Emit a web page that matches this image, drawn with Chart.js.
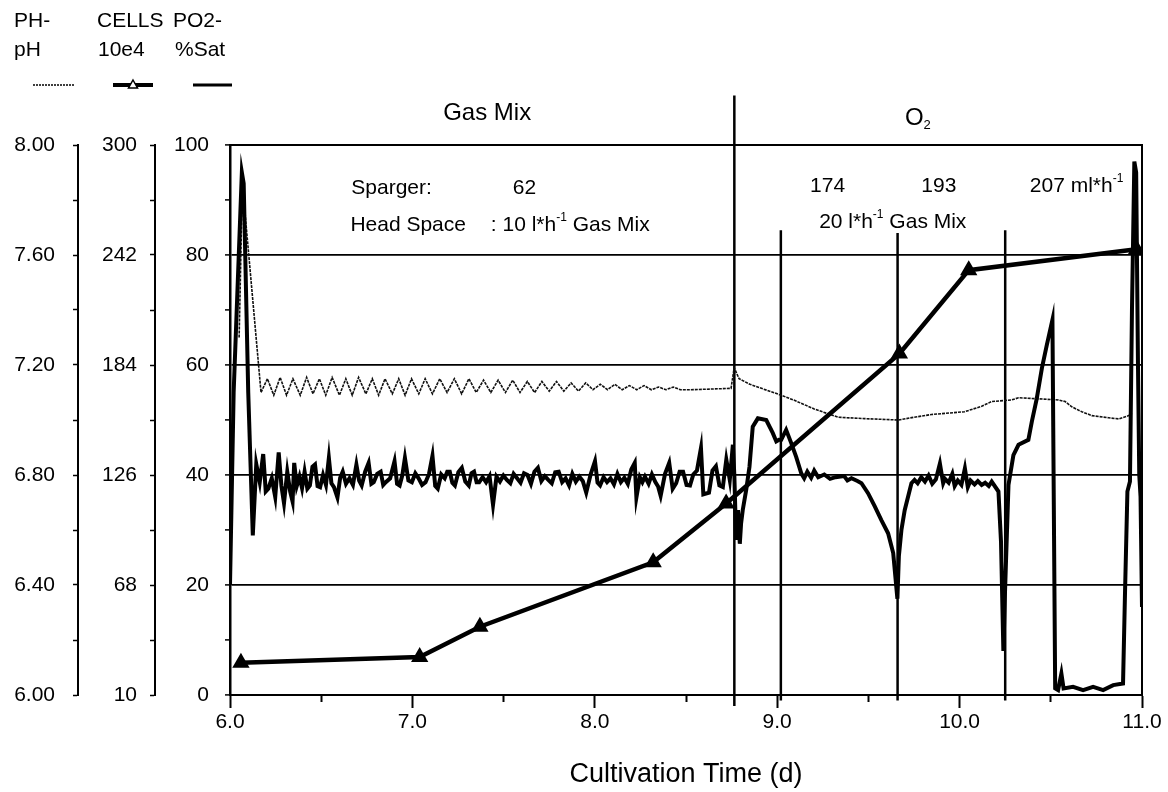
<!DOCTYPE html>
<html>
<head>
<meta charset="utf-8">
<script src="https://cdn.jsdelivr.net/npm/chart.js@4.4.1/dist/chart.umd.min.js"></script>
<style>
  html, body { margin: 0; padding: 0; background: #fff; }
</style>
</head>
<body>
<canvas id="cultureChart" width="1168" height="792"></canvas>
<script>
const FONT = '"Liberation Sans", Arial, Helvetica, sans-serif';
Chart.defaults.font.family = FONT;
Chart.defaults.color = '#000';

// axis tick labels
const dayTicks = [6, 7, 8, 9, 10, 11];
const phTicks = [6.0, 6.4, 6.8, 7.2, 7.6, 8.0];
const cellTicks = [10, 68, 126, 184, 242, 300];
const po2Ticks = [0, 20, 40, 60, 80, 100];

// cell counts (10e4)
const cellDays = [6.06, 7.04, 7.37, 8.32, 8.72, 9.67, 10.05, 10.97];
const cellValues = [27, 30, 46, 80, 111, 190, 234, 245];

// dissolved oxygen (% saturation)
const po2Days = [
  6.00, 6.02, 6.065, 6.075, 6.10, 6.125, 6.144, 6.163, 6.182, 6.196, 6.210, 6.229, 6.248, 6.267, 6.282, 6.296,
  6.314, 6.330, 6.343, 6.352, 6.366, 6.381, 6.395, 6.409, 6.424, 6.438, 6.452, 6.466, 6.480, 6.494, 6.510, 6.526,
  6.542, 6.556, 6.570, 6.589, 6.604, 6.618, 6.636, 6.655, 6.674, 6.693, 6.708, 6.722, 6.741, 6.760, 6.775, 6.788,
  6.807, 6.826, 6.840, 6.854, 6.878, 6.902, 6.916, 6.930, 6.945, 6.959, 6.978, 6.997, 7.016, 7.034, 7.053, 7.072,
  7.091, 7.110, 7.125, 7.139, 7.158, 7.177, 7.191, 7.205, 7.219, 7.233, 7.252, 7.271, 7.290, 7.309, 7.324, 7.338,
  7.352, 7.366, 7.385, 7.404, 7.423, 7.442, 7.461, 7.480, 7.499, 7.518, 7.537, 7.555, 7.574, 7.593, 7.612, 7.631,
  7.650, 7.669, 7.688, 7.707, 7.726, 7.745, 7.764, 7.783, 7.802, 7.821, 7.840, 7.859, 7.877, 7.896, 7.915, 7.934,
  7.953, 7.977, 8.001, 8.015, 8.029, 8.048, 8.067, 8.086, 8.105, 8.124, 8.143, 8.162, 8.181, 8.200, 8.219, 8.228,
  8.247, 8.261, 8.275, 8.295, 8.313, 8.332, 8.347, 8.361, 8.385, 8.408, 8.427, 8.446, 8.465, 8.484, 8.503, 8.522,
  8.540, 8.560, 8.582, 8.595, 8.626, 8.645, 8.664, 8.683, 8.702, 8.721, 8.740, 8.757, 8.765, 8.775, 8.785, 8.795,
  8.802, 8.811, 8.830, 8.848, 8.866, 8.894, 8.940, 8.976, 8.995, 9.010, 9.022, 9.049, 9.077, 9.104, 9.132, 9.148,
  9.165, 9.186, 9.203, 9.225, 9.258, 9.290, 9.320, 9.367, 9.385, 9.407, 9.440, 9.462, 9.498, 9.535, 9.571, 9.608,
  9.636, 9.659, 9.667, 9.681, 9.699, 9.736, 9.753, 9.770, 9.790, 9.810, 9.830, 9.850, 9.870, 9.892, 9.910, 9.920,
  9.940, 9.960, 9.973, 9.990, 10.010, 10.029, 10.045, 10.060, 10.082, 10.100, 10.121, 10.140, 10.160, 10.176, 10.213, 10.227,
  10.240, 10.249, 10.268, 10.295, 10.323, 10.377, 10.396, 10.423, 10.451, 10.478, 10.509, 10.524, 10.540, 10.558, 10.570, 10.622,
  10.677, 10.732, 10.787, 10.842, 10.896, 10.907, 10.920, 10.934, 10.945, 10.958, 10.968, 10.978, 10.985, 10.992, 11.000
];
const po2Values = [
  20, 55, 95, 93, 55, 29, 42, 38.7, 43.8, 37, 37.5, 39.4, 36, 44.1, 38, 34.9,
  40.6, 37, 35.2, 42.2, 38, 39.7, 37.6, 40.6, 37.5, 38.1, 41.5, 41.9, 38, 37.8, 40, 38.2,
  43.1, 38.5, 37.8, 35.9, 39.5, 40.6, 38.4, 39.4, 38.2, 41.9, 39, 38.1, 40.6, 42.2, 38.4, 38.7,
  40.2, 40.6, 38.2, 38.7, 39.4, 42.5, 38.4, 38.1, 40, 43.1, 39, 38.7, 40.3, 39.4, 38.2, 38.7,
  40.2, 43.5, 38, 37.5, 40.1, 39.4, 40.6, 40.6, 38.6, 38.1, 40.5, 41.3, 38.8, 38.1, 40.3, 40.6,
  38.7, 38.7, 39.6, 38.7, 39.8, 34.6, 39.7, 38.8, 39.9, 39.1, 38.5, 40.2, 39.4, 38.6, 40.3, 40,
  38.4, 40.6, 41.3, 38.9, 39.8, 39.1, 38.5, 40.5, 40.6, 38.7, 39.4, 38.1, 40.2, 38.8, 39.7, 38.9,
  36.8, 40.1, 42.5, 38.6, 38.1, 39.6, 38.7, 39.4, 38.3, 40.2, 38.7, 39.5, 38.4, 41, 42.2, 35.9,
  39.6, 38.7, 39.7, 38.4, 40.1, 38.7, 37.9, 36.2, 40.2, 42.2, 37.5, 38.5, 40.6, 40.6, 38.2, 38.1,
  40.1, 40.8, 44.9, 36.5, 36.8, 40.8, 41.6, 38.1, 37.8, 42.8, 39.1, 45.5, 40, 28.2, 33.6, 27.5,
  31.2, 33.6, 37.3, 41.5, 48.8, 50.3, 50, 47.6, 46.1, 46.4, 46.4, 48.2, 45.8, 43.3, 40.3, 39.4,
  40.6, 39.5, 40.8, 39.6, 40.1, 39.3, 39.6, 39.8, 39, 39.4, 38.9, 38.5, 36.7, 34.3, 31.8, 29.4,
  25.8, 17.5, 25.2, 30, 33.6, 38.5, 39.1, 38.5, 39.6, 38.8, 39.9, 38.4, 39.2, 42.1, 38.5, 39.3,
  38.6, 40.2, 38, 39, 38.2, 41.2, 37.8, 39, 38.3, 38.9, 38.2, 38.6, 38, 38.8, 37, 27.9,
  8, 18.8, 38.2, 43.6, 45.5, 46.4, 49.7, 53.9, 59.4, 63.6, 68.2, 1.2, 0.9, 3.9, 1.2, 1.5,
  0.9, 1.5, 0.9, 1.8, 2.1, 18.8, 37, 38.8, 70, 97, 95, 60, 40, 36, 16
];

// pH
const phDays = [
  6.05, 6.068, 6.170, 6.205, 6.240, 6.275, 6.310, 6.345, 6.385, 6.420, 6.455, 6.490, 6.525, 6.560, 6.600, 6.635,
  6.670, 6.705, 6.745, 6.780, 6.815, 6.850, 6.890, 6.925, 6.960, 6.995, 7.035, 7.070, 7.110, 7.150, 7.190, 7.230,
  7.270, 7.310, 7.350, 7.390, 7.430, 7.470, 7.510, 7.550, 7.590, 7.630, 7.670, 7.710, 7.750, 7.790, 7.830, 7.870,
  7.910, 7.950, 7.990, 8.030, 8.070, 8.110, 8.150, 8.190, 8.230, 8.270, 8.310, 8.350, 8.390, 8.430, 8.470, 8.520,
  8.747, 8.764, 8.791, 8.850, 9.022, 9.100, 9.203, 9.335, 9.478, 9.665, 9.750, 9.846, 10.027, 10.121, 10.176, 10.286,
  10.323, 10.542, 10.579, 10.615, 10.670, 10.725, 10.817, 10.872, 10.927, 10.945
];
const phValues = [
  7.30, 7.86, 7.10, 7.15, 7.09, 7.155, 7.09, 7.15, 7.09, 7.155, 7.095, 7.15, 7.09, 7.155, 7.09, 7.15,
  7.09, 7.155, 7.095, 7.15, 7.09, 7.15, 7.095, 7.15, 7.09, 7.15, 7.095, 7.15, 7.095, 7.15, 7.10, 7.15,
  7.095, 7.15, 7.10, 7.145, 7.10, 7.145, 7.10, 7.145, 7.10, 7.14, 7.10, 7.14, 7.105, 7.14, 7.105, 7.135,
  7.105, 7.135, 7.11, 7.13, 7.11, 7.13, 7.11, 7.125, 7.11, 7.125, 7.11, 7.12, 7.11, 7.12, 7.11, 7.11,
  7.115, 7.19, 7.15, 7.13, 7.09, 7.07, 7.04, 7.01, 7.005, 7.00, 7.01, 7.02, 7.03, 7.05, 7.067, 7.073,
  7.081, 7.073, 7.067, 7.048, 7.03, 7.016, 7.008, 7.004, 7.016, 7.024
];

// gas supply change markers
const eventDays = [8.765, 9.02, 9.66, 10.25];
const eventTops = [109, 84.5, 84, 84.5];
const eventBottoms = [-2, -1, -1, -1];

// text annotations, placed in day / %Sat units
const notes = [
  { day: 7.41, po2: 105.8, size: 24, align: 'center', parts: [{ t: 'Gas Mix' }] },
  { day: 9.70, po2: 104.9, size: 24, align: 'left', parts: [{ t: 'O' }, { t: '2', sub: true }] },
  { day: 6.665, po2: 92.2, size: 21, align: 'left', parts: [{ t: 'Sparger:' }] },
  { day: 7.55, po2: 92.2, size: 21, align: 'left', parts: [{ t: '62' }] },
  { day: 6.66, po2: 85.4, size: 21, align: 'left', parts: [{ t: 'Head Space' }] },
  { day: 7.43, po2: 85.4, size: 21, align: 'left', parts: [{ t: ': 10 l*h' }, { t: '-1', sup: true }, { t: ' Gas Mix' }] },
  { day: 9.18, po2: 92.5, size: 21, align: 'left', parts: [{ t: '174' }] },
  { day: 9.79, po2: 92.5, size: 21, align: 'left', parts: [{ t: '193' }] },
  { day: 10.385, po2: 92.5, size: 21, align: 'left', parts: [{ t: '207 ml*h' }, { t: '-1', sup: true }] },
  { day: 9.23, po2: 86, size: 21, align: 'left', parts: [{ t: '20 l*h' }, { t: '-1', sup: true }, { t: ' Gas Mix' }] }
];

const pts = (xs, ys) => xs.map((d, i) => ({ x: d, y: ys[i] }));

function withMinors(majors) {
  const out = [];
  majors.forEach((v, i) => {
    out.push({ value: v });
    if (i < majors.length - 1) out.push({ value: (v + majors[i + 1]) / 2 });
  });
  return out;
}

function drawParts(c, parts, x, y, size, align) {
  const partFont = p => (p.sup || p.sub) ? `${Math.round(size * 0.55)}px ${FONT}` : `${size}px ${FONT}`;
  let total = 0;
  parts.forEach(p => { c.font = partFont(p); total += c.measureText(p.t).width; });
  let cx = align === 'center' ? x - total / 2 : x;
  c.textAlign = 'left';
  parts.forEach(p => {
    c.font = partFont(p);
    const dy = p.sup ? -size * 0.35 : (p.sub ? size * 0.3 : 0);
    c.fillText(p.t, cx, y + dy);
    cx += c.measureText(p.t).width;
  });
}

const textPlugin = {
  id: 'textPlugin',
  afterDraw(chart) {
    const c = chart.ctx;
    const xs = chart.scales.x, ys = chart.scales.yPo2;
    c.save();
    c.fillStyle = '#000';
    c.strokeStyle = '#000';
    c.textBaseline = 'middle';

    // legend block over the three axes
    c.font = `21px ${FONT}`;
    c.textAlign = 'left';
    c.fillText('PH-', 14, 21);
    c.fillText('pH', 14, 50);
    c.fillText('CELLS', 97, 21);
    c.fillText('10e4', 98, 50);
    c.fillText('PO2-', 173, 21);
    c.fillText('%Sat', 175, 50);

    c.lineWidth = 1.6;
    c.setLineDash([2, 1]);
    c.beginPath(); c.moveTo(33, 85); c.lineTo(75, 85); c.stroke();
    c.setLineDash([]);
    c.lineWidth = 4;
    c.beginPath(); c.moveTo(113, 85); c.lineTo(153, 85); c.stroke();
    c.lineWidth = 1.5;
    c.fillStyle = '#fff';
    c.beginPath(); c.moveTo(133, 80); c.lineTo(137.5, 88); c.lineTo(128.5, 88); c.closePath(); c.fill(); c.stroke();
    c.fillStyle = '#000';
    c.lineWidth = 3;
    c.beginPath(); c.moveTo(193, 85); c.lineTo(232, 85); c.stroke();

    notes.forEach(n => drawParts(c, n.parts, xs.getPixelForValue(n.day), ys.getPixelForValue(n.po2), n.size, n.align));
    c.restore();
  }
};

const eventSets = eventDays.map((d, i) => ({
  label: 'event' + i,
  data: [{ x: d, y: eventTops[i] }, { x: d, y: eventBottoms[i] }],
  yAxisID: 'yPo2',
  borderColor: '#000',
  borderWidth: 2.5,
  pointRadius: 0,
  clip: false,
  order: 4
}));

new Chart(document.getElementById('cultureChart'), {
  type: 'line',
  data: {
    datasets: [
      {
        label: 'PO2 %Sat',
        data: pts(po2Days, po2Values),
        yAxisID: 'yPo2',
        borderColor: '#000',
        borderWidth: 4,
        pointRadius: 0,
        tension: 0,
        order: 2
      },
      {
        label: 'Cells 10e4',
        data: pts(cellDays, cellValues),
        yAxisID: 'yCells',
        borderColor: '#000',
        borderWidth: 4.5,
        pointStyle: 'triangle',
        pointRadius: 5.5,
        pointBackgroundColor: '#000',
        pointBorderColor: '#000',
        order: 1
      },
      {
        label: 'pH',
        data: pts(phDays, phValues),
        yAxisID: 'yPh',
        borderColor: '#111',
        borderWidth: 1.6,
        borderDash: [3, 1],
        pointRadius: 0,
        order: 3
      },
      ...eventSets
    ]
  },
  options: {
    responsive: false,
    animation: false,
    devicePixelRatio: 1,
    events: [],
    layout: { padding: 0 },
    plugins: { legend: { display: false }, tooltip: { enabled: false } },
    scales: {
      x: {
        type: 'linear',
        position: 'bottom',
        min: 6,
        max: 11,
        afterBuildTicks: s => { s.ticks = withMinors(dayTicks); },
        afterFit: s => { s.height = 97; },
        grid: {
          drawOnChartArea: false,
          tickLength: 13,
          tickWidth: 2,
          tickColor: '#000',
          tickBorderDash: ctx => (ctx.index % 2 ? [6, 40] : [])
        },
        border: { color: '#000', width: 2 },
        ticks: {
          autoSkip: false,
          maxRotation: 0,
          padding: 2,
          font: { size: 21 },
          callback: (v, i) => (i % 2 ? '' : Number(v).toFixed(1))
        },
        title: {
          display: true,
          text: 'Cultivation Time (d)',
          font: { size: 27 },
          padding: { top: 0, bottom: 1 }
        }
      },
      xTop: {
        type: 'linear',
        position: 'top',
        min: 6,
        max: 11,
        afterFit: s => { s.height = 145; },
        grid: { display: false },
        ticks: { display: false },
        border: { color: '#000', width: 2 }
      },
      yRight: {
        type: 'linear',
        position: 'right',
        min: 0,
        max: 100,
        afterFit: s => { s.width = 26; },
        grid: { display: false },
        ticks: { display: false },
        border: { color: '#000', width: 2 }
      },
      yPh: {
        type: 'linear',
        position: 'left',
        weight: 3,
        min: 6,
        max: 8,
        afterBuildTicks: s => { s.ticks = withMinors(phTicks); },
        afterFit: s => { s.width = 78; },
        grid: { drawOnChartArea: false, tickLength: 5, tickWidth: 1.5, tickColor: '#000' },
        border: { color: '#000', width: 2 },
        ticks: { padding: 18, font: { size: 21 }, callback: (v, i) => (i % 2 ? '' : Number(v).toFixed(2)) }
      },
      yCells: {
        type: 'linear',
        position: 'left',
        weight: 2,
        min: 10,
        max: 300,
        afterBuildTicks: s => { s.ticks = withMinors(cellTicks); },
        afterFit: s => { s.width = 77; },
        grid: { drawOnChartArea: false, tickLength: 5, tickWidth: 1.5, tickColor: '#000' },
        border: { color: '#000', width: 2 },
        ticks: { padding: 13, font: { size: 21 }, callback: (v, i) => (i % 2 ? '' : String(v)) }
      },
      yPo2: {
        type: 'linear',
        position: 'left',
        weight: 1,
        min: 0,
        max: 100,
        afterBuildTicks: s => { s.ticks = withMinors(po2Ticks); },
        afterFit: s => { s.width = 75; },
        grid: {
          drawOnChartArea: true,
          lineWidth: 1.8,
          color: ctx => {
            const v = ctx.tick ? ctx.tick.value : 0;
            return (ctx.index % 2 === 0 && v > 0 && v < 100) ? '#000' : 'rgba(0,0,0,0)';
          },
          tickLength: 5,
          tickWidth: 1.5,
          tickColor: '#000'
        },
        border: { color: '#000', width: 2.5 },
        ticks: { padding: 16, font: { size: 21 }, callback: (v, i) => (i % 2 ? '' : String(v)) }
      }
    }
  },
  plugins: [textPlugin]
});
</script>
</body>
</html>
